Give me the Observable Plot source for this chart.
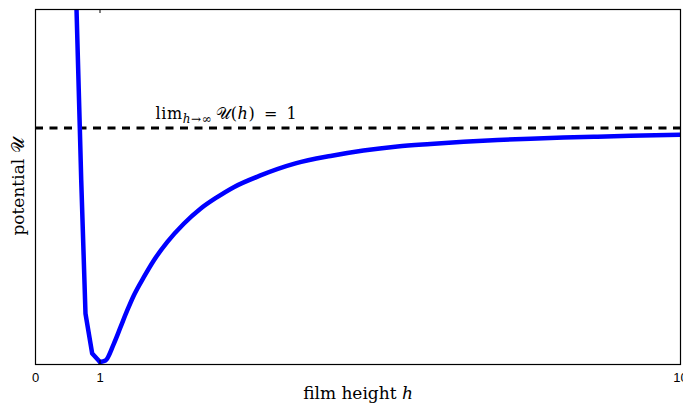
<!DOCTYPE html>
<html><head><meta charset="utf-8">
<script src="https://cdn.jsdelivr.net/npm/d3@7"></script>
<script src="https://cdn.jsdelivr.net/npm/@observablehq/plot@0.6"></script>
<style>body{margin:0;background:#fff}</style>
</head><body><div id="chart"></div>
<script>
// left (steep, coarsely sampled) branch of the potential
const leftH = [0.62, 0.636, 0.687, 0.709, 0.775, 0.879, 1.0];
const leftU = [1.66, 1.506, 1.0, 0.776, 0.207, 0.036, 0.0];
// right (smooth) branch
const rightH = [1.0, 1.085, 1.214, 1.318, 1.422, 1.524, 1.679, 1.834, 2.042, 2.299, 2.558, 2.817, 3.074, 3.488, 4.031, 4.574, 5.085, 5.612, 6.124, 6.636, 7.163, 7.674, 8.186, 8.713, 9.225, 10.0];
const rightU = [0.0, 0.0064, 0.0778, 0.1487, 0.2201, 0.2842, 0.3624, 0.4338, 0.512, 0.5906, 0.6547, 0.7043, 0.747, 0.797, 0.8483, 0.8803, 0.9038, 0.9209, 0.9316, 0.941, 0.9487, 0.9543, 0.959, 0.9628, 0.9662, 0.9709];
const limitU = [1];
const xTicks = [0, 1, 10];
const xDomain = [0, 10];
const yDomain = [-0.0107, 1.506];
const annotH = [1.86];

const left = leftH.map((h, i) => ({h, u: leftU[i]}));
const right = rightH.map((h, i) => ({h, u: rightU[i]}));

const serif = "DejaVu Serif, serif";
const plot = Plot.plot({
  width: 683, height: 403,
  marginLeft: 35, marginRight: 3, marginTop: 9, marginBottom: 39,
  style: {background: "#fff", fontFamily: "Liberation Sans, Arial, sans-serif"},
  x: {domain: xDomain},
  y: {domain: yDomain},
  marks: [
    Plot.ruleY(limitU, {stroke: "#000", strokeWidth: 3, strokeDasharray: "8,6.5"}),
    Plot.line(left, {x: "h", y: "u", stroke: "#0000ff", strokeWidth: 4.5, clip: true, strokeLinejoin: "round"}),
    Plot.line(right, {x: "h", y: "u", stroke: "#0000ff", strokeWidth: 4.5, curve: "monotone-x", clip: true, strokeLinejoin: "round"}),
    Plot.frame({stroke: "#000", strokeWidth: 1.2}),
    Plot.tickX(xTicks, {x: d => d, insetBottom: 351, stroke: "#000"}),
    Plot.tickX(xTicks, {x: d => d, insetTop: 351, stroke: "#000"}),
    Plot.axisX({ticks: xTicks, tickSize: 0, tickPadding: 8.5, label: null, fontSize: 13, tickFormat: d => String(d)}),
    Plot.axisY({ticks: [], label: null, tickSize: 0}),
    Plot.text(annotH, {x: d => d, y: limitU[0], text: () => "ANNOT", textAnchor: "start", lineAnchor: "bottom", dy: -9, fontSize: 16, fontFamily: serif}),
    Plot.text(["XLABEL"], {frameAnchor: "bottom", dy: 29, fontSize: 17, fontFamily: serif, lineAnchor: "middle", textAnchor: "middle"}),
    Plot.text(["YLABEL"], {frameAnchor: "left", dx: -17, rotate: -90, fontSize: 17, fontFamily: serif, lineAnchor: "middle", textAnchor: "middle"})
  ]
});

function rich(label, parts, extra) {
  d3.select(plot).selectAll("text").filter(function () { return this.textContent === label; }).each(function () {
    const t = d3.select(this);
    t.text(null);
    if (extra) for (const k in extra) t.attr(k, extra[k]);
    for (const p of parts) {
      const s = t.append("tspan").text(p.t);
      if (p.i) s.attr("font-style", "italic");
      if (p.s) s.attr("font-size", p.s);
      if (p.dy != null) s.attr("dy", p.dy);
    }
  });
}
rich("ANNOT", [
  {t: "lim"},
  {t: "h", i: true, s: 12, dy: 4},
  {t: "→∞", s: 12},
  {t: "\u2009𝒰", dy: -4},
  {t: "("},
  {t: "h", i: true},
  {t: ")\u2002=\u20021"}
], {"letter-spacing": 0.6});
rich("XLABEL", [{t: "film height "}, {t: "h", i: true}]);
rich("YLABEL", [{t: "potential "}, {t: "𝒰"}]);

document.getElementById("chart").append(plot);
</script>
</body></html>
